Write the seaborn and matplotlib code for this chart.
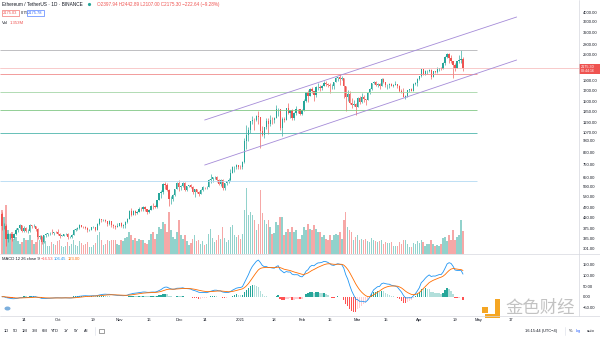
import numpy as np
import pandas as pd
import matplotlib
matplotlib.use("Agg")
import matplotlib.pyplot as plt
import seaborn as sns
from matplotlib.lines import Line2D
from matplotlib.patches import Rectangle, Ellipse
from matplotlib.ticker import NullLocator

# ---------------- data (ETH/USDT daily, Binance) ----------------
start_date = "2020-09-03"
first_open = 440.0

close = [
    # Sep 3-30
    385, 386, 335, 353, 353, 337, 352, 368, 374, 387, 365, 377, 364, 365, 389, 384, 384, 370, 341, 344,
    321, 348, 352, 354, 356, 354, 360, 359,
    # Oct
    353, 346, 346, 352, 353, 340, 341, 350, 366, 370, 375, 387, 381, 379, 377, 366, 368, 378, 379, 369,
    392, 413, 409, 412, 406, 393, 404, 388, 386, 382, 386,
    # Nov
    396, 383, 388, 401, 415, 454, 435, 454, 444, 449, 462, 461, 474, 461, 447, 460, 480, 479, 471, 509,
    549, 559, 608, 604, 570, 517, 518, 537, 575, 615,
    # Dec
    587, 598, 617, 569, 595, 601, 592, 555, 573, 560, 545, 568, 590, 586, 589, 636, 642, 655, 659, 638,
    609, 634, 583, 612, 626, 635, 683, 731, 731, 751, 737,
    # Jan
    730, 775, 979, 1042, 1100, 1208, 1225, 1224, 1281, 1262, 1090, 1044, 1130, 1218, 1171, 1233, 1231,
    1257, 1377, 1382, 1121, 1235, 1232, 1392, 1325, 1363, 1251, 1331, 1380, 1377, 1314,
    # Feb
    1369, 1515, 1660, 1595, 1721, 1680, 1614, 1751, 1768, 1744, 1784, 1843, 1812, 1800, 1780, 1781,
    1849, 1937, 1960, 1920, 1935, 1780, 1570, 1626, 1475, 1446, 1459, 1416,
    # Mar
    1564, 1492, 1575, 1541, 1533, 1654, 1724, 1834, 1869, 1795, 1826, 1772, 1924, 1854, 1792, 1806,
    1823, 1777, 1808, 1812, 1783, 1682, 1669, 1581, 1587, 1700, 1715, 1691, 1819, 1846, 1919,
    # Apr 1-23
    1977, 2142, 2028, 2093, 2108, 2117, 1970, 2088, 2071, 2136, 2157, 2140, 2300, 2431, 2515, 2420,
    2340, 2235, 2160, 2327, 2357, 2397.94, 2175.30,
]

high = [
    450, 395, 391, 355, 357, 353, 355, 374, 376, 391, 389, 384, 378, 370, 392, 390, 393, 385, 376, 347,
    345, 350, 357, 356, 360, 370, 361, 362,
    370, 355, 350, 353, 355, 355, 343, 352, 370, 374, 378, 394, 390, 385, 383, 381, 370, 380, 385, 382,
    396, 418, 416, 414, 416, 407, 410, 406, 392, 390, 395,
    397, 403, 392, 405, 420, 456, 466, 458, 458, 455, 472, 472, 478, 476, 462, 465, 486, 495, 484, 513,
    554, 567, 614, 620, 613, 575, 531, 545, 578, 620,
    637, 601, 624, 622, 597, 604, 606, 597, 577, 575, 562, 573, 597, 592, 597, 640, 676, 660, 666, 667,
    646, 640, 642, 614, 628, 648, 717, 744, 740, 754, 751,
    749, 787, 1011, 1158, 1132, 1210, 1280, 1260, 1300, 1348, 1260, 1151, 1138, 1250, 1250, 1297, 1270,
    1265, 1440, 1394, 1384, 1274, 1273, 1405, 1474, 1370, 1380, 1344, 1433, 1390, 1385,
    1380, 1540, 1664, 1697, 1733, 1760, 1690, 1780, 1830, 1800, 1800, 1870, 1870, 1830, 1830, 1825,
    1850, 1955, 1966, 2040, 1986, 1940, 1780, 1710, 1680, 1560, 1525, 1480,
    1570, 1600, 1650, 1621, 1545, 1670, 1735, 1840, 1880, 1870, 1840, 1836, 1945, 1934, 1868, 1810,
    1835, 1840, 1820, 1870, 1820, 1800, 1725, 1740, 1620, 1705, 1730, 1734, 1830, 1860, 1942,
    1990, 2150, 2145, 2110, 2120, 2150, 2137, 2100, 2100, 2200, 2167, 2200, 2318, 2470, 2545, 2550,
    2500, 2350, 2290, 2350, 2497, 2644, 2442.89,
]

low = [
    367, 370, 310, 322, 333, 325, 334, 348, 360, 370, 360, 360, 360, 356, 360, 377, 381, 362, 335, 334,
    315, 318, 341, 346, 348, 352, 350, 354,
    349, 336, 343, 344, 348, 335, 336, 336, 349, 365, 369, 372, 378, 375, 371, 360, 364, 366, 374, 365,
    366, 390, 402, 405, 403, 383, 389, 379, 375, 373, 380,
    383, 378, 376, 375, 398, 414, 428, 432, 434, 440, 448, 454, 455, 454, 440, 443, 457, 462, 466, 470,
    508, 523, 548, 575, 565, 480, 490, 505, 533, 573,
    562, 570, 588, 561, 564, 588, 585, 547, 530, 552, 535, 543, 565, 576, 579, 586, 618, 625, 644, 625,
    599, 597, 568, 571, 601, 616, 628, 683, 693, 720, 714,
    717, 714, 769, 896, 976, 1064, 1169, 1100, 1209, 1171, 900, 1030, 1012, 1115, 1050, 1150, 1170,
    1187, 1250, 1280, 1100, 1030, 1200, 1230, 1305, 1250, 1220, 1230, 1300, 1330, 1290,
    1290, 1360, 1500, 1500, 1590, 1650, 1510, 1570, 1700, 1680, 1700, 1770, 1780, 1760, 1650, 1730,
    1725, 1850, 1880, 1800, 1890, 1560, 1360, 1510, 1460, 1400, 1430, 1293,
    1410, 1460, 1480, 1500, 1440, 1520, 1630, 1705, 1820, 1780, 1760, 1730, 1770, 1840, 1765, 1730,
    1750, 1770, 1765, 1800, 1745, 1670, 1655, 1570, 1545, 1583, 1670, 1680, 1688, 1800, 1780,
    1910, 1970, 2000, 2000, 2020, 2080, 1930, 1960, 2050, 2060, 2107, 2110, 2140, 2250, 2420, 2300,
    2300, 1950, 2100, 2165, 2300, 2300, 2107.00,
]

volume_m = [
    2.60, 2.20, 2.90, 1.40, 1.20, 1.30, 0.90, 1.00, 0.75, 0.60, 0.70, 0.95, 0.85, 0.80, 1.10, 0.80, 0.60,
    0.70, 1.30, 0.80, 1.10, 1.00, 0.75, 0.45, 0.45, 0.70, 0.60, 0.55,
    0.75, 0.85, 0.45, 0.40, 0.45, 0.70, 0.50, 0.60, 0.80, 0.55, 0.45, 0.75, 0.65, 0.55, 0.60, 0.70, 0.40,
    0.40, 0.55, 0.65, 1.10, 1.30, 0.80, 0.55, 0.60, 0.85, 0.75, 0.85, 0.85, 0.80, 0.60,
    0.55, 0.80, 0.75, 0.95, 1.00, 1.30, 1.10, 0.80, 0.95, 0.75, 0.90, 0.80, 0.85, 0.65, 0.60, 0.85, 1.20,
    1.30, 0.90, 1.20, 1.60, 1.50, 1.90, 1.80, 1.30, 2.50, 1.40, 1.00, 0.90, 1.30,
    2.00, 1.10, 0.90, 1.10, 0.75, 0.55, 0.65, 0.90, 1.10, 0.75, 0.85, 0.60, 0.75, 0.55, 0.60, 1.20, 1.50,
    0.95, 0.70, 0.80, 1.10, 0.90, 1.60, 0.95, 0.70, 0.80, 1.60, 1.70, 1.10, 1.00, 1.10,
    0.90, 1.20, 2.60, 3.90, 2.30, 2.50, 2.30, 2.00, 1.40, 1.80, 3.80, 2.40, 2.00, 1.80, 2.00, 1.60, 1.20,
    1.25, 1.90, 1.70, 2.20, 2.20, 1.10, 1.30, 1.50, 1.30, 1.60, 1.30, 1.40, 0.90, 0.90,
    1.10, 1.60, 1.40, 1.80, 1.50, 1.40, 1.70, 1.50, 1.30, 1.30, 1.00, 1.10, 0.90, 0.85, 1.10, 0.85, 1.10,
    1.20, 1.10, 1.30, 0.90, 2.00, 2.50, 1.60, 1.40, 1.30, 0.80, 1.00,
    1.10, 0.85, 0.90, 0.85, 0.90, 0.75, 0.70, 0.95, 0.80, 0.75, 0.70, 0.75, 0.85, 0.60, 0.70, 0.65, 0.65,
    0.70, 0.50, 0.45, 0.45, 0.70, 0.60, 0.80, 0.80, 0.60, 0.40, 0.40, 0.65, 0.60, 0.75,
    0.65, 0.80, 0.70, 0.50, 0.60, 0.60, 0.85, 0.60, 0.45, 0.55, 0.45, 0.60, 0.95, 1.00, 0.75, 1.10, 0.80,
    1.40, 0.85, 1.00, 1.15, 2.00, 1.35,
]

# horizontal drawn levels and trend channel
level_prices = [2640, 2030, 1660, 1364, 1060, 632]
level_colors = ["#b4b4b8", "#f08c8c", "#a5d6a7", "#81c784", "#4db6ac", "#b3d9f2"]
level_end_date = "2021-04-30"
channel_dates = ["2020-12-14", "2021-05-20"]
channel_upper = [1226, 3787]
channel_lower = [749, 2365]

price_ticks = [301, 335, 375, 420, 470, 530, 590, 650, 750, 860, 980, 1070, 1190, 1350, 1500, 1700,
               1900, 2500, 2800, 3200, 3600, 4000]
macd_ticks = [-50, 0, 50, 100, 150]
time_tick_dates = ["2020-09-14", "2020-10-01", "2020-10-19", "2020-11-01", "2020-11-16", "2020-12-01",
                   "2020-12-14", "2021-01-01", "2021-01-18", "2021-02-01", "2021-02-15", "2021-03-01",
                   "2021-03-15", "2021-04-01", "2021-04-19", "2021-05-01", "2021-05-17"]
time_tick_labels = ["14", "Oct", "19", "Nov", "16", "Dec", "14", "2021", "18", "Feb", "15", "Mar",
                    "15", "Apr", "19", "May", "17"]

# ---------------- derived ----------------
close = np.array(close, float)
high = np.array(high, float)
low = np.array(low, float)
vol = np.array(volume_m, float)
opens = np.concatenate([[first_open], close[:-1]])
high = np.maximum(high, np.maximum(opens, close))
low = np.minimum(low, np.minimum(opens, close))
n = len(close)
idx = np.arange(n)
t0 = pd.Timestamp(start_date)
def day_index(d):
    return (pd.Timestamp(d) - t0).days

s = pd.Series(close)
macd = s.ewm(span=12, adjust=False).mean() - s.ewm(span=26, adjust=False).mean()
signal = macd.ewm(span=9, adjust=False).mean()
hist = (macd - signal).values

UP, DN = "#26a69a", "#ef5350"
up = close >= opens
candle_colors = np.where(up, UP, DN)

# ---------------- figure ----------------
sns.set_theme(style="white")
plt.rcParams['font.family'] = ['Liberation Sans', 'DejaVu Sans']
W, H = 600, 337
fig = plt.figure(figsize=(6.0, 3.37), dpi=100)
fig.patch.set_facecolor("white")
def fx(px): return px / W
def fy(py): return 1 - py / H

PR = 579
XL = (-1.0, (PR - 2) / 1.987)
ax = fig.add_axes([0, fy(254), fx(PR), fy(0) - fy(254)])
axv = ax.twinx()
axm = fig.add_axes([0, fy(316), fx(PR), fy(254) - fy(316)])

ax.set_zorder(2); axv.set_zorder(1); ax.patch.set_visible(False)
axv.patch.set_facecolor("white")

# volume
vcols = np.where(up, UP, DN)
axv.bar(idx, vol, width=0.75, color=vcols, alpha=0.5, linewidth=0)
axv.set_ylim(0, 15.0)
axv.set_yticks([]); axv.set_xlim(*XL)
for sp in axv.spines.values():
    sp.set_visible(False)

# price
ax.set_yscale("log")
ax.vlines(idx, low, high, colors=candle_colors, linewidth=0.45)
ax.bar(idx, np.maximum(np.abs(close - opens), 0.5), bottom=np.minimum(opens, close), width=0.62,
       color=candle_colors, linewidth=0)
ax.hlines(level_prices, XL[0], day_index(level_end_date), colors=level_colors, linewidth=0.6)
ax.axhline(close[-1], color="#f5b5b5", linewidth=0.5)
cx = [day_index(d) for d in channel_dates]
ax.plot(cx, channel_upper, color="#a58bd8", linewidth=0.6)
ax.plot(cx, channel_lower, color="#a58bd8", linewidth=0.6)
ax.set_xlim(*XL)
ax.set_ylim(282.8, 4562)
ax.yaxis.tick_right()
ax.yaxis.set_minor_locator(NullLocator())
ax.set_yticks(price_ticks)
ax.set_yticklabels([f"{v:.2f}" for v in price_ticks])
ax.tick_params(axis="y", length=0, labelsize=3.0, labelcolor="#131722", pad=2.5)
ax.set_xticks([])
for sp in ax.spines.values():
    sp.set_visible(False)

# MACD
hcols = []
for i, h in enumerate(hist):
    p = hist[i - 1] if i > 0 else h
    if h >= 0:
        hcols.append("#26a69a" if h >= p else "#b2dfdb")
    else:
        hcols.append("#ffcdd2" if h > p else "#ff5252")
axm.bar(idx, hist, width=0.7, color=hcols, linewidth=0)
sns.lineplot(x=idx, y=macd.values, ax=axm, color="#2196f3", linewidth=0.6)
sns.lineplot(x=idx, y=signal.values, ax=axm, color="#ff6d00", linewidth=0.6)
axm.set_xlim(*XL)
axm.set_ylim(-90, 199.5)
axm.yaxis.tick_right()
axm.set_yticks(macd_ticks)
axm.set_yticklabels([f"{v:.2f}".replace("-", "\u2212") for v in macd_ticks])
axm.tick_params(axis="y", length=0, labelsize=3.0, labelcolor="#131722", pad=2.5)
axm.set_xticks([day_index(d) for d in time_tick_dates])
axm.set_xticklabels(time_tick_labels)
axm.tick_params(axis="x", length=0, labelsize=3.0, labelcolor="#131722", pad=1.6)
for sp in axm.spines.values():
    sp.set_visible(False)

# separators
def fline(x0, y0, x1, y1, c="#d6d8de", lw=0.5):
    fig.add_artist(Line2D([fx(x0), fx(x1)], [fy(y0), fy(y1)], transform=fig.transFigure,
                          color=c, linewidth=lw))
fline(PR, 0, PR, 316)
fline(0, 254, 600, 254)
fline(0, 316, 600, 316)
fline(565, 327, 565, 335, c="#e0e3eb")
fline(95, 327, 95, 335, c="#e0e3eb")

TXT = "#131722"
FS = 3.0
def ftxt(x, y, s, **kw):
    kw.setdefault("fontsize", FS)
    kw.setdefault("color", TXT)
    return fig.text(fx(x), fy(y), s, va="center", **kw)

# header
ftxt(2, 4.5, "Ethereum / TetherUS \u00b7 1D \u00b7 BINANCE", fontsize=3.45)
fig.add_artist(Ellipse((fx(89.5), fy(4.5)), 3.2 / W, 3.2 / H, transform=fig.transFigure,
                       facecolor="#26a69a", edgecolor="none"))
ftxt(97, 4.5, "O2397.94 H2442.89 L2107.00 C2175.30 \u2212222.64 (\u22129.28%)", color=DN, fontsize=3.3)
ftxt(3, 13, "2175.03", color=DN, fontsize=2.9,
     bbox=dict(boxstyle="square,pad=0.3", fc="white", ec=DN, lw=0.4))
ftxt(21, 13, "0.75", fontsize=2.9)
ftxt(28, 13, "2175.78", color="#2962ff", fontsize=2.9,
     bbox=dict(boxstyle="square,pad=0.3", fc="white", ec="#2962ff", lw=0.4))
ftxt(2, 22.5, "Vol", fontsize=3.1)
ftxt(9.5, 22.5, "1.353M", color=DN, fontsize=3.1)

# MACD header
ftxt(2, 258.5, "MACD 12 26 close 9", fontsize=3.0)
ftxt(41, 258.5, "\u221216.53", color="#ff5252", fontsize=3.0)
ftxt(54, 258.5, "106.45", color="#2196f3", fontsize=3.0)
ftxt(68, 258.5, "123.00", color="#ff6d00", fontsize=3.0)

# price tag
fig.add_artist(Rectangle((fx(579), fy(74)), 21 / W, 10 / H, transform=fig.transFigure,
                         facecolor=DN, edgecolor="none"))
ftxt(581, 66.6, "2175.30", color="white", fontsize=2.7)
ftxt(581, 71.4, "03:44:16", color="white", fontsize=2.5)

# bottom toolbar
for x, s in zip([4, 13, 22, 32, 42, 51, 64, 74, 84],
                ["1D", "5D", "1M", "3M", "6M", "YTD", "1Y", "5Y", "All"]):
    ftxt(x, 331, s, fontsize=2.9)
fig.add_artist(Rectangle((fx(99), fy(333)), 5 / W, 4 / H, transform=fig.transFigure,
                         facecolor="none", edgecolor="#555", linewidth=0.4))
ftxt(525, 331, "16:15:44 (UTC\u22124)", fontsize=2.9)
ftxt(569, 331, "%", fontsize=2.9)
ftxt(576, 331, "log", color="#2962ff", fontsize=2.9)
ftxt(587, 331, "auto", fontsize=2.9)

# TradingView mark bottom-left
fig.add_artist(Ellipse((fx(7.5), fy(308.5)), 6 / W, 4 / H, transform=fig.transFigure,
                       facecolor="#5b9bd5", edgecolor="none", alpha=0.8))

# watermark
fig.add_artist(Rectangle((fx(482), fy(313)), 6 / W, 6 / H, transform=fig.transFigure,
                         facecolor="#f5a623", edgecolor="none"))
fig.add_artist(Rectangle((fx(495), fy(314)), 5 / W, 15 / H, transform=fig.transFigure,
                         facecolor="#f5a623", edgecolor="none"))
fig.add_artist(Rectangle((fx(485), fy(318)), 15 / W, 4.5 / H, transform=fig.transFigure,
                         facecolor="#f5a623", edgecolor="none"))
fig.text(fx(505), fy(308), "金色财经", fontsize=12.5, color="#b8b8b8", alpha=0.85,
         va="center", ha="left", family=["Noto Sans CJK SC", "DejaVu Sans"])

fig.savefig("out.png", dpi=100, facecolor="white")
